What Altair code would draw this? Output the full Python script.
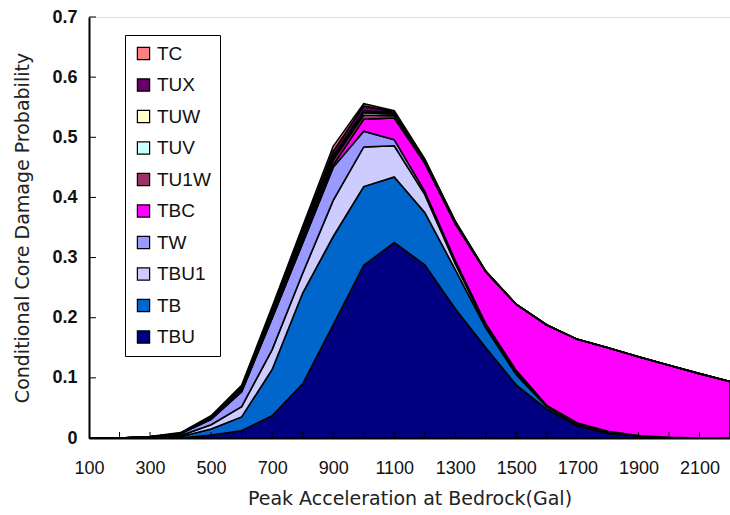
import altair as alt
import pandas as pd

gal = [100, 200, 300, 400, 500, 600, 700, 800, 900, 1000, 1100,
       1200, 1300, 1400, 1500, 1600, 1700, 1800, 1900, 2000, 2100, 2200]

# stacked from bottom to top
TBU  = [0, 0, 0, 0, 0.005, 0.012, 0.037, 0.090, 0.188, 0.287, 0.325, 0.288, 0.215, 0.150, 0.088, 0.048, 0.020, 0.008, 0.003, 0.001, 0, 0]
TB   = [0, 0, 0.001, 0.002, 0.010, 0.023, 0.077, 0.151, 0.147, 0.131, 0.109, 0.087, 0.065, 0.033, 0.017, 0.004, 0.002, 0.001, 0, 0, 0, 0]
TBU1 = [0, 0, 0.0005, 0.002, 0.007, 0.017, 0.033, 0.033, 0.060, 0.066, 0.052, 0.030, 0.010, 0.004, 0.004, 0.001, 0.002, 0.001, 0.0005, 0, 0, 0]
TW   = [0, 0, 0.0005, 0.003, 0.009, 0.025, 0.052, 0.050, 0.055, 0.026, 0.010, 0.005, 0.005, 0.003, 0.003, 0.001, 0.001, 0.001, 0.0005, 0, 0, 0]
TBC  = [0, 0, 0, 0, 0, 0.0005, 0.001, 0.002, 0.004, 0.020, 0.036, 0.047, 0.061, 0.086, 0.110, 0.134, 0.139, 0.139, 0.131, 0.120, 0.107, 0.094]
TU1W = [0, 0, 0, 0.0005, 0.001, 0.002, 0.004, 0.006, 0.008, 0.007, 0.004, 0.003, 0.002, 0.001, 0, 0, 0, 0, 0, 0, 0, 0]
TUV  = [0, 0, 0, 0, 0.0005, 0.001, 0.002, 0.003, 0.004, 0.004, 0.003, 0.001, 0.001, 0, 0, 0, 0, 0, 0, 0, 0, 0]
TUW  = [0, 0, 0, 0, 0.0005, 0.001, 0.002, 0.003, 0.003, 0.003, 0.002, 0.001, 0.0005, 0, 0, 0, 0, 0, 0, 0, 0, 0]
TUX  = [0, 0, 0, 0.0005, 0.002, 0.003, 0.005, 0.007, 0.008, 0.008, 0.001, 0.001, 0.0005, 0, 0, 0, 0, 0, 0, 0, 0, 0]
TC   = [0, 0, 0.0005, 0.001, 0.002, 0.003, 0.005, 0.007, 0.008, 0.004, 0.002, 0.001, 0.0005, 0, 0, 0, 0, 0, 0, 0, 0, 0]

stack_names = ["TBU", "TB", "TBU1", "TW", "TBC", "TU1W", "TUV", "TUW", "TUX", "TC"]
stack_values = [TBU, TB, TBU1, TW, TBC, TU1W, TUV, TUW, TUX, TC]
stack_colors = ["#000080", "#0066CC", "#CCCCFF", "#9999FF", "#FF00FF",
                "#993366", "#CCFFFF", "#FFFFCC", "#660066", "#FF8080"]

y_ticks = [0, 0.1, 0.2, 0.3, 0.4, 0.5, 0.6, 0.7]
x_labels = [100, 300, 500, 700, 900, 1100, 1300, 1500, 1700, 1900, 2100]

rows = []
for i, (name, vals) in enumerate(zip(stack_names, stack_values)):
    for g, v in zip(gal, vals):
        rows.append({"gal": g, "p": v, "seq": name, "idx": i})
df = pd.DataFrame(rows)

legend_domain = list(reversed(stack_names))
legend_range = list(reversed(stack_colors))

FONT = "Liberation Sans"
TFONT = "DejaVu Sans"
W, H = 641, 421

xscale = alt.Scale(domain=[100, 2200], nice=False, zero=False)
yscale = alt.Scale(domain=[0, 0.7], nice=False, zero=True)

x_axis = alt.Axis(values=x_labels, ticks=False, grid=False, labelFlush=False,
                  format="d",
                  title="Peak Acceleration at Bedrock(Gal)",
                  labelFontSize=18, labelPadding=21, labelColor="#111",
                  titleFontSize=19, titleFontWeight="normal", titleColor="#222",
                  titlePadding=12, domainColor="black", domainWidth=2,
                  labelFont=FONT, titleFont=TFONT)
y_axis = alt.Axis(values=y_ticks, ticks=False, grid=False,
                  labelExpr="datum.value == 0 ? '0' : format(datum.value, '.1f')",
                  title="Conditional Core Damage Probability",
                  labelFontSize=18, labelPadding=12, labelColor="#111",
                  labelFontWeight="bold",
                  titleFontSize=19, titleFontWeight="normal", titleColor="#222",
                  titlePadding=19, domainColor="black", domainWidth=2,
                  labelFont=FONT, titleFont=TFONT)

area = alt.Chart(df).mark_area(
    stroke="black", strokeWidth=1.6, interpolate="linear", opacity=1, fillOpacity=1
).encode(
    x=alt.X("gal:Q", scale=xscale, axis=x_axis),
    y=alt.Y("p:Q", stack="zero", scale=yscale, axis=y_axis),
    color=alt.Color("seq:N", scale=alt.Scale(domain=legend_domain, range=legend_range),
                    legend=alt.Legend(title=None, orient="none", legendX=36, legendY=18,
                                      symbolType="square", symbolSize=150,
                                      symbolStrokeColor="black", symbolStrokeWidth=1.2,
                                      symbolOpacity=1,
                                      labelFontSize=19, labelFont=FONT, labelColor="#111",
                                      rowPadding=11.5, padding=9, labelOffset=4,
                                      strokeColor="black", fillColor="white")),
    order=alt.Order("idx:Q", sort="ascending"),
)

ytick_df = pd.DataFrame({"p": y_ticks[1:]})
yticks = alt.Chart(ytick_df).mark_rule(color="black", strokeWidth=1).encode(
    y=alt.Y("p:Q", scale=yscale, axis=y_axis),
    x=alt.value(0), x2=alt.value(7),
)

xtick_df = pd.DataFrame({"gal": gal[1:]})
xticks = alt.Chart(xtick_df).mark_rule(color="black", strokeWidth=1).encode(
    x=alt.X("gal:Q", scale=xscale, axis=x_axis),
    y=alt.value(H), y2=alt.value(H - 6),
)

chart = alt.layer(area, yticks, xticks).properties(
    width=W, height=H,
    autosize=alt.AutoSizeParams(type="none"),
    padding={"left": 89, "top": 17, "right": 0, "bottom": 77},
).configure_view(stroke=None).configure(background="white")

chart.save("out.html", embed_options={"renderer": "svg", "actions": False})
